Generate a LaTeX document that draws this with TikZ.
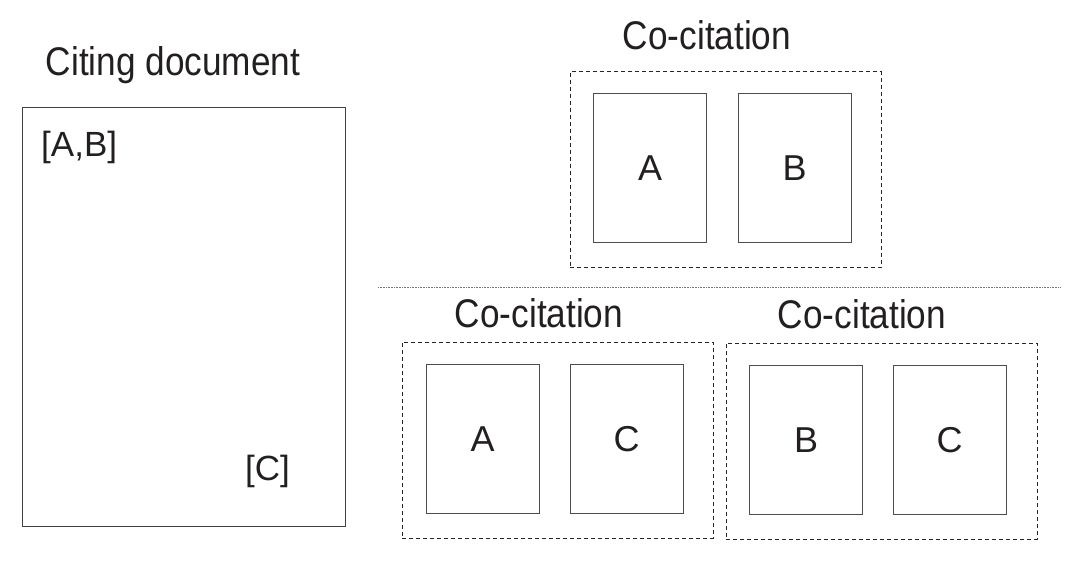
\documentclass[tikz,border=0pt]{standalone}
\usepackage{fontspec}
\setmainfont{Liberation Sans}
\definecolor{ink}{HTML}{231F20}
\begin{document}
\begin{tikzpicture}[x=1pt,y=-1pt,
  doc/.style={draw=black!75,line width=1pt,inner sep=0pt},
  page/.style={draw=black!70,line width=1pt,minimum width=113pt,minimum height=149pt,inner sep=0pt,
     text=ink,font=\fontsize{36}{40}\selectfont},
  group/.style={draw=black!85,line width=0.9pt,dash pattern=on 4pt off 3pt,minimum width=311pt,minimum height=196pt,inner sep=0pt},
  title/.style={inner sep=0pt,text=ink,font=\fontsize{40}{44}\selectfont,xscale=0.88},
  cite/.style={inner sep=0pt,text=ink,font=\fontsize{35}{38}\selectfont}]
\useasboundingbox (0,0) rectangle (1078,568);
% citing document
\node[doc,minimum width=323pt,minimum height=419pt] (doc) at (183.5,316.5) {};
\node[title,anchor=base] (doctitle) at (173,75) {Citing document};
\node[cite,anchor=base west] (ab) at (41,156) {[A,B]};
\node[cite,anchor=base west] (c) at (245,480) {[C]};
% top group
\node[group] (g1) at (725.5,169.5) {};
\node[title,anchor=base] (t1) at (707,49) {Co-citation};
\node[page] (g1a) at (650,168) {A};
\node[page] (g1b) at (794.5,168) {B};
% separator
\coordinate (s1) at (378,287);
\coordinate (s2) at (1060,287);
\draw[black!55,line width=0.6pt,dash pattern=on 0.6pt off 1pt] (s1) -- (s2);
% bottom left group
\node[group] (g2) at (557.5,440) {};
\node[title,anchor=base] (t2) at (539,327) {Co-citation};
\node[page] (g2a) at (482.5,439) {A};
\node[page] (g2c) at (626.5,439) {C};
% bottom right group
\node[group] (g3) at (881.5,441) {};
\node[title,anchor=base] (t3) at (862,328) {Co-citation};
\node[page] (g3b) at (806,440) {B};
\node[page] (g3c) at (949.5,440) {C};
\end{tikzpicture}
\end{document}
